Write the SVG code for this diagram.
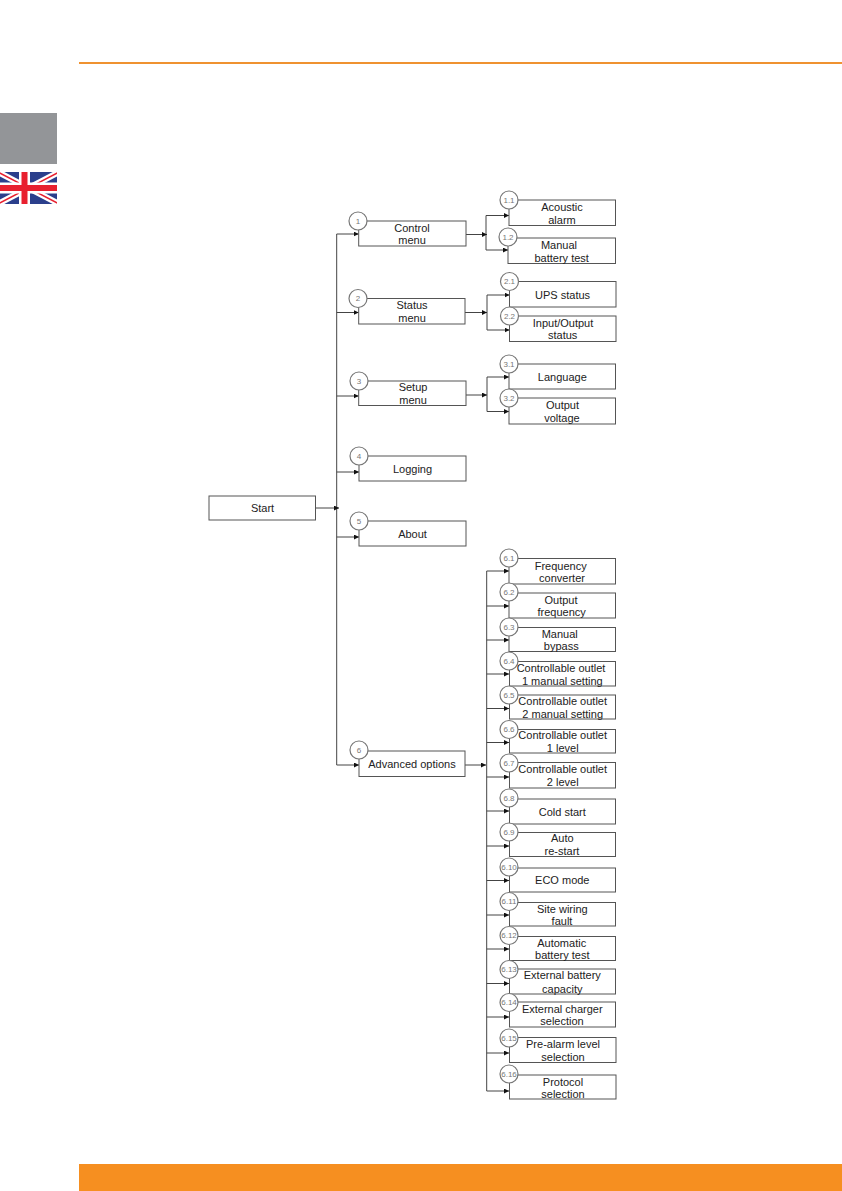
<svg xmlns="http://www.w3.org/2000/svg" width="842" height="1191" viewBox="0 0 842 1191">
<style>
.b{fill:#fff;stroke:#555;stroke-width:1}
.c{fill:#fff;stroke:#777;stroke-width:1.2}
.t{font-family:"Liberation Sans",Arial,sans-serif;font-size:11px;fill:#222;text-anchor:middle}
.n{font-family:"Liberation Sans",Arial,sans-serif;font-size:8px;fill:#777;text-anchor:middle}
.l{fill:none;stroke:#444;stroke-width:1}
.a{fill:none;stroke:#444;stroke-width:1;marker-end:url(#ah)}
</style>
<defs>
<marker id="ah" markerUnits="userSpaceOnUse" markerWidth="6" markerHeight="6" refX="5" refY="2.5" orient="auto"><path d="M0 0L5 2.5L0 5Z" fill="#111"/></marker>
<clipPath id="fc"><rect x="0" y="172" width="57" height="32"/></clipPath>
</defs>
<g id="page">
<rect x="79" y="62" width="763" height="2" fill="#ef9230"/>
<rect x="79" y="1164" width="763" height="27" fill="#f68f20"/>
<rect x="0" y="113" width="57" height="51" fill="#939598"/>
<g clip-path="url(#fc)">
<rect x="0" y="172" width="57" height="32" fill="#2b3f8c"/>
<path d="M-6 170L63 206M63 170L-6 206" stroke="#fff" stroke-width="6"/>
<path d="M-6 170L63 206M63 170L-6 206" stroke="#e8202f" stroke-width="1.5"/>
<path d="M24.500 172V204M0 188H57" stroke="#fff" stroke-width="11"/>
<path d="M24.500 172V204M0 188H57" stroke="#e8202f" stroke-width="6"/>
</g>
</g>
<g id="connectors">
<path class="l" d="M336.700 234V765"/>
<path class="a" d="M316 508H339"/>
<path class="a" d="M336.700 234H358.700"/>
<path class="a" d="M336.700 312.500H358.700"/>
<path class="a" d="M336.700 396H358.700"/>
<path class="a" d="M336.700 472H359"/>
<path class="a" d="M336.700 537H359"/>
<path class="a" d="M336.700 765H359"/>
<path class="l" d="M486 215.500V250"/>
<path class="a" d="M466 234.500H487"/>
<path class="a" d="M486 215.500H509"/>
<path class="a" d="M486 250H508"/>
<path class="l" d="M487 295V330"/>
<path class="a" d="M465 312.500H487"/>
<path class="a" d="M487 295H509.500"/>
<path class="a" d="M487 330H509.500"/>
<path class="l" d="M487 377V411.500"/>
<path class="a" d="M466 395H487"/>
<path class="a" d="M487 377H509"/>
<path class="a" d="M487 411.500H509"/>
<path class="l" d="M486.700 571V1091"/>
<path class="a" d="M465 765H486"/>
<path class="a" d="M486.700 571H509"/>
<path class="a" d="M486.700 606H509"/>
<path class="a" d="M486.700 640H509"/>
<path class="a" d="M486.700 674H509"/>
<path class="a" d="M486.700 708.500H509"/>
<path class="a" d="M486.700 742.500H509"/>
<path class="a" d="M486.700 777H509"/>
<path class="a" d="M486.700 811H509"/>
<path class="a" d="M486.700 846H509"/>
<path class="a" d="M486.700 880.500H509"/>
<path class="a" d="M486.700 915H509"/>
<path class="a" d="M486.700 949H509"/>
<path class="a" d="M486.700 983.500H509"/>
<path class="a" d="M486.700 1017H509"/>
<path class="a" d="M486.700 1053H509"/>
<path class="a" d="M486.700 1091H509"/>
</g>
<g id="start"><rect class="b" x="209" y="496" width="106.500" height="24"/><text class="t" x="262.500" y="512">Start</text></g>
<g id="n1"><rect class="b" x="358.700" y="221" width="107.300" height="25"/><circle class="c" cx="358" cy="221" r="9"/><text class="n" x="358" y="223.500">1</text><text class="t" x="412" y="231.500">Control</text><text class="t" x="412" y="244">menu</text></g>
<g id="n2"><rect class="b" x="358.700" y="298.500" width="106.300" height="25.500"/><circle class="c" cx="358" cy="298.500" r="9"/><text class="n" x="358" y="301">2</text><text class="t" x="412" y="309">Status</text><text class="t" x="412" y="322">menu</text></g>
<g id="n3"><rect class="b" x="358.700" y="381" width="107.300" height="24.500"/><circle class="c" cx="359" cy="381" r="9"/><text class="n" x="359" y="383.500">3</text><text class="t" x="413" y="391">Setup</text><text class="t" x="413" y="404">menu</text></g>
<g id="n4"><rect class="b" x="359" y="456" width="107" height="25"/><circle class="c" cx="359" cy="456" r="9"/><text class="n" x="359" y="458.500">4</text><text class="t" x="412.500" y="472.500">Logging</text></g>
<g id="n5"><rect class="b" x="359" y="521" width="107" height="25"/><circle class="c" cx="359" cy="521" r="9"/><text class="n" x="359" y="523.500">5</text><text class="t" x="412.500" y="537.500">About</text></g>
<g id="n6"><rect class="b" x="359" y="751" width="106" height="25.500"/><circle class="c" cx="359" cy="750" r="9"/><text class="n" x="359" y="752.500">6</text><text class="t" x="412" y="768">Advanced options</text></g>
<g id="n1-1"><rect class="b" x="509" y="200" width="106.500" height="25.500"/><circle class="c" cx="509" cy="200" r="9"/><text class="n" x="509" y="202.500">1.1</text><text class="t" x="562" y="211">Acoustic</text><text class="t" x="562" y="224">alarm</text></g>
<g id="n1-2"><rect class="b" x="508" y="238" width="107.500" height="25.500"/><circle class="c" cx="508" cy="237" r="9"/><text class="n" x="508" y="239.500">1.2</text><text class="t" x="559" y="249">Manual</text><text class="t" x="561.700" y="261.500">battery test</text></g>
<g id="n2-1"><rect class="b" x="509.500" y="281.500" width="106.500" height="25.500"/><circle class="c" cx="509.500" cy="281.500" r="9"/><text class="n" x="509.500" y="284">2.1</text><text class="t" x="562.600" y="298.500">UPS status</text></g>
<g id="n2-2"><rect class="b" x="509.500" y="316" width="106.500" height="25.500"/><circle class="c" cx="509.500" cy="316" r="9"/><text class="n" x="509.500" y="318.500">2.2</text><text class="t" x="563" y="326.500">Input/Output</text><text class="t" x="562.700" y="339">status</text></g>
<g id="n3-1"><rect class="b" x="509" y="364" width="106.500" height="25"/><circle class="c" cx="509" cy="364" r="9"/><text class="n" x="509" y="366.500">3.1</text><text class="t" x="562.300" y="381">Language</text></g>
<g id="n3-2"><rect class="b" x="509" y="398" width="106.500" height="26"/><circle class="c" cx="509" cy="398" r="9"/><text class="n" x="509" y="400.500">3.2</text><text class="t" x="562.500" y="409">Output</text><text class="t" x="562" y="422">voltage</text></g>
<g id="n6-1"><rect class="b" x="509" y="558.500" width="106.500" height="25.500"/><circle class="c" cx="509" cy="558" r="9"/><text class="n" x="509" y="560.500">6.1</text><text class="t" x="560.700" y="569.500">Frequency</text><text class="t" x="562" y="582">converter</text></g>
<g id="n6-2"><rect class="b" x="509" y="593" width="106.500" height="25"/><circle class="c" cx="509" cy="592" r="9"/><text class="n" x="509" y="594.500">6.2</text><text class="t" x="561" y="604">Output</text><text class="t" x="561.700" y="616">frequency</text></g>
<g id="n6-3"><rect class="b" x="509" y="627.500" width="106.500" height="24"/><circle class="c" cx="509" cy="627" r="9"/><text class="n" x="509" y="629.500">6.3</text><text class="t" x="559.700" y="638">Manual</text><text class="t" x="561.300" y="650">bypass</text></g>
<g id="n6-4"><rect class="b" x="509.500" y="661.500" width="106" height="24.500"/><circle class="c" cx="509" cy="661" r="9"/><text class="n" x="509" y="663.500">6.4</text><text class="t" x="561" y="672">Controllable outlet</text><text class="t" x="562.300" y="684.500">1 manual setting</text></g>
<g id="n6-5"><rect class="b" x="509.500" y="695" width="106" height="24"/><circle class="c" cx="509" cy="695" r="9"/><text class="n" x="509" y="697.500">6.5</text><text class="t" x="562.700" y="705">Controllable outlet</text><text class="t" x="562.700" y="717.500">2 manual setting</text></g>
<g id="n6-6"><rect class="b" x="509.500" y="729.500" width="106" height="23.500"/><circle class="c" cx="509" cy="729.500" r="9"/><text class="n" x="509" y="732">6.6</text><text class="t" x="562.700" y="739">Controllable outlet</text><text class="t" x="562.700" y="752">1 level</text></g>
<g id="n6-7"><rect class="b" x="509.500" y="762.500" width="106" height="25.500"/><circle class="c" cx="509" cy="763" r="9"/><text class="n" x="509" y="765.500">6.7</text><text class="t" x="562.700" y="773">Controllable outlet</text><text class="t" x="562.700" y="785.500">2 level</text></g>
<g id="n6-8"><rect class="b" x="509.500" y="799" width="106" height="25"/><circle class="c" cx="509" cy="798" r="9"/><text class="n" x="509" y="800.500">6.8</text><text class="t" x="562.300" y="815.500">Cold start</text></g>
<g id="n6-9"><rect class="b" x="509.500" y="832.500" width="106" height="24"/><circle class="c" cx="509" cy="832" r="9"/><text class="n" x="509" y="834.500">6.9</text><text class="t" x="562.300" y="842">Auto</text><text class="t" x="562" y="855">re-start</text></g>
<g id="n6-10"><rect class="b" x="509.500" y="868" width="106" height="24"/><circle class="c" cx="509" cy="867" r="9"/><text class="n" x="509" y="869.500">6.10</text><text class="t" x="562.300" y="884">ECO mode</text></g>
<g id="n6-11"><rect class="b" x="509.500" y="902.500" width="106" height="23.500"/><circle class="c" cx="509" cy="901.500" r="9"/><text class="n" x="509" y="904">6.11</text><text class="t" x="562.300" y="912.500">Site wiring</text><text class="t" x="562" y="925">fault</text></g>
<g id="n6-12"><rect class="b" x="509.500" y="936.500" width="106" height="24"/><circle class="c" cx="509" cy="935.500" r="9"/><text class="n" x="509" y="938">6.12</text><text class="t" x="561.700" y="946.500">Automatic</text><text class="t" x="562.300" y="959">battery test</text></g>
<g id="n6-13"><rect class="b" x="509.500" y="969" width="106" height="25"/><circle class="c" cx="509" cy="969.500" r="9"/><text class="n" x="509" y="972">6.13</text><text class="t" x="562.300" y="979">External battery</text><text class="t" x="562.300" y="992.500">capacity</text></g>
<g id="n6-14"><rect class="b" x="509.500" y="1002" width="106" height="25"/><circle class="c" cx="509" cy="1002.500" r="9"/><text class="n" x="509" y="1005">6.14</text><text class="t" x="562.300" y="1012.500">External charger</text><text class="t" x="562" y="1025">selection</text></g>
<g id="n6-15"><rect class="b" x="509.500" y="1037.500" width="106.500" height="25"/><circle class="c" cx="509" cy="1038" r="9"/><text class="n" x="509" y="1040.500">6.15</text><text class="t" x="563" y="1048">Pre-alarm level</text><text class="t" x="563" y="1060.500">selection</text></g>
<g id="n6-16"><rect class="b" x="509.500" y="1075" width="106.500" height="24"/><circle class="c" cx="509" cy="1074" r="9"/><text class="n" x="509" y="1076.500">6.16</text><text class="t" x="563" y="1085.500">Protocol</text><text class="t" x="563" y="1098">selection</text></g>
</svg>
